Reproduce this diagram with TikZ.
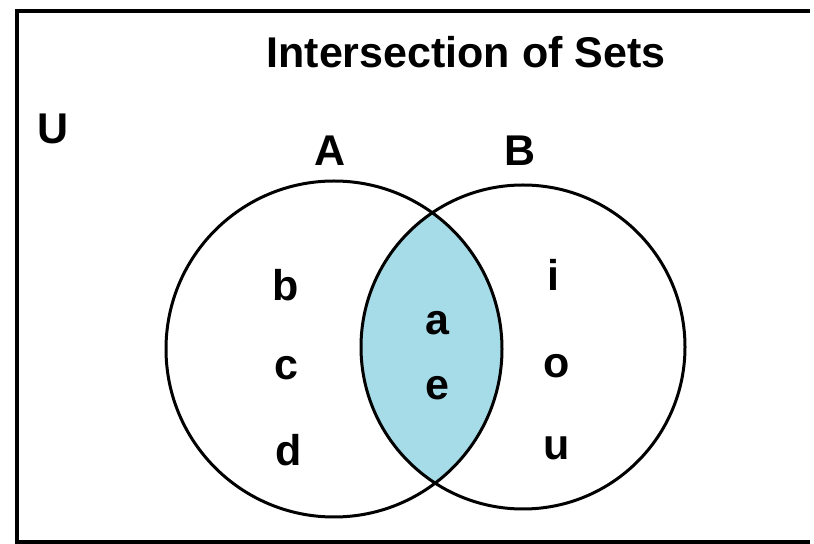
\documentclass[tikz,border=0pt]{standalone}
\usepackage{fontspec}
\setmainfont{Liberation Sans}
\usetikzlibrary{positioning}
\definecolor{lensblue}{RGB}{166,220,232}

\begin{document}
\begin{tikzpicture}[
        x = 0.5pt, y = -0.5pt,
        on grid,
        every node/.style = {font = \fontsize{21.5}{26}\selectfont\bfseries, inner sep = 0pt},
        set circle/.style = {draw = black, line width = 1.5pt},
        universe/.style = {draw = black, line width = 1.7pt}
    ]

      \useasboundingbox (0,0) rectangle (814,544);
      \draw[universe] (810,11) -- (17,11) -- (17,542) -- (810,542);

      \coordinate (c_A) at (334,349);
      \coordinate (c_B) at (523,347);

      % shaded part: A and B
      \begin{scope}
        \clip (c_A) circle [radius = 84pt];
        \fill[lensblue] (c_B) circle [radius = 81pt];
      \end{scope}
      \draw[set circle] (c_A) circle [radius = 84pt];
      \draw[set circle] (c_B) circle [radius = 81pt];

      \node (title) at (466,52)  {Intersection of Sets};
      \node (s_U)   at (53,129)  {U};
      \node (s_A)   at (330,151) {A};
      \node (s_B)   at (520,151) {B};

      \node (b) at (286,285) {b};
      \node (c) [below = 41.5pt of b] {c};
      \node (d) at (289,450) {d};

      \node (a) at (437,323) {a};
      \node (e) [below = 32.5pt of a] {e};

      \node (i) at (553,275) {i};
      \node (o) at (557,366) {o};
      \node (u) [below = 41pt of o] {u};

    \end{tikzpicture}
\end{document}
